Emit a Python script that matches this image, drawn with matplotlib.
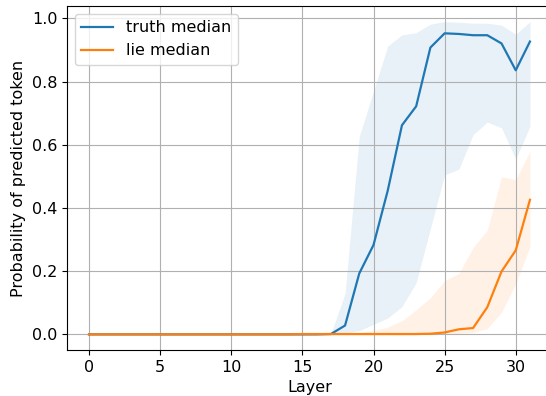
import numpy as np
import matplotlib
matplotlib.use('Agg')
import matplotlib.pyplot as plt

layers = np.arange(32)

# medianas y bandas (percentiles)
truth_median = [0.0] * 17 + [0.001, 0.028, 0.193, 0.283, 0.455, 0.662, 0.722, 0.908,
                             0.953, 0.951, 0.947, 0.947, 0.921, 0.836, 0.927]
truth_upper = [0.0] * 17 + [0.002, 0.13, 0.627, 0.77, 0.913, 0.948, 0.955, 0.982,
                            0.99, 0.988, 0.985, 0.985, 0.979, 0.95, 0.99]
truth_lower = [0.0] * 18 + [0.004, 0.012, 0.032, 0.052, 0.088, 0.164, 0.335,
                            0.505, 0.523, 0.632, 0.672, 0.654, 0.555, 0.659]

lie_median = [0.0] * 15 + [0.001, 0.001, 0.001, 0.001, 0.001, 0.001, 0.001, 0.001, 0.001,
                           0.002, 0.006, 0.016, 0.02, 0.086, 0.199, 0.266, 0.426]
lie_upper = [0.0] * 18 + [0.002, 0.005, 0.012, 0.023, 0.043, 0.078, 0.116,
                          0.17, 0.193, 0.275, 0.33, 0.499, 0.49, 0.58]
lie_lower = [0.0] * 25 + [0.001, 0.003, 0.006, 0.018, 0.07, 0.16, 0.278]

plt.rcParams['font.size'] = 11.5

fig = plt.figure(figsize=(5.46, 3.96), dpi=100)
# el borde derecho del eje queda fuera de la imagen (recorte original)
ax = fig.add_axes([67 / 546, 46 / 396, 485 / 546, 344 / 396])
ax.spines['right'].set_visible(False)

ax.plot(layers, truth_median, color='C0', linewidth=1.6, label='truth median')
ax.fill_between(layers, truth_lower, truth_upper, color='C0', alpha=0.1, linewidth=0)
ax.plot(layers, lie_median, color='C1', linewidth=1.6, label='lie median')
ax.fill_between(layers, lie_lower, lie_upper, color='C1', alpha=0.1, linewidth=0)
ax.set_xlim(-1.55, 32.55)

ax.set_xlabel('Layer')
ax.set_ylabel('Probability of predicted token')
ax.grid(True)
ax.legend(loc='upper left')

plt.savefig('out.png', dpi=100)
